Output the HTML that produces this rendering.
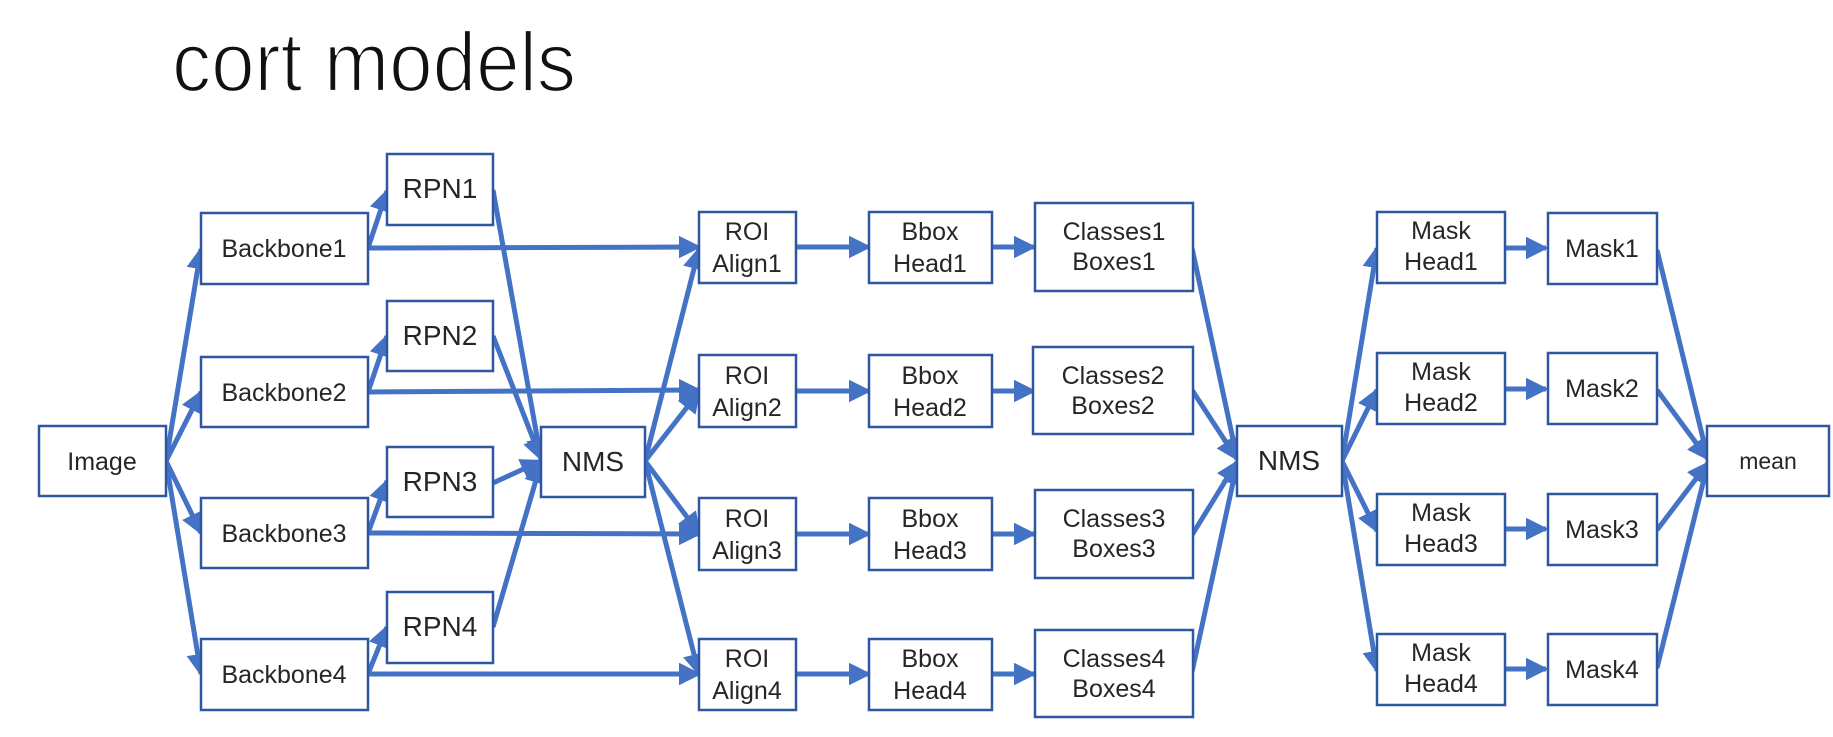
<!DOCTYPE html>
<html><head><meta charset="utf-8"><style>
html,body{margin:0;padding:0;background:#fff;}
svg{display:block;}
text{font-family:"Liberation Sans","Noto Sans CJK JP",sans-serif;fill:#262626;}
</style></head><body>
<svg width="1833" height="737" viewBox="0 0 1833 737" xmlns="http://www.w3.org/2000/svg">
<defs>
<marker id="a" markerWidth="4.5" markerHeight="4.5" refX="4" refY="2.25" orient="auto" markerUnits="strokeWidth">
<path d="M0,0 L4.5,2.25 L0,4.5 z" fill="#4472C4"/>
</marker>
</defs>
<text x="172" y="91" font-size="84" textLength="404" lengthAdjust="spacingAndGlyphs" style="fill:#111;stroke:#fff;stroke-width:2.2">cort models</text>

<g stroke="#4472C4" stroke-width="5" fill="none" marker-end="url(#a)">
<line x1="166" y1="461" x2="201" y2="249"/>
<line x1="166" y1="461" x2="201" y2="392"/>
<line x1="166" y1="461" x2="201" y2="533"/>
<line x1="166" y1="461" x2="201" y2="674"/>
<line x1="368" y1="248" x2="387" y2="191"/>
<line x1="368" y1="392" x2="387" y2="336"/>
<line x1="368" y1="533" x2="387" y2="481"/>
<line x1="368" y1="674" x2="387" y2="627"/>
<line x1="368" y1="248" x2="699" y2="247"/>
<line x1="368" y1="392" x2="699" y2="390"/>
<line x1="368" y1="533" x2="699" y2="534"/>
<line x1="368" y1="674" x2="699" y2="674"/>
<line x1="493" y1="190" x2="541" y2="459"/>
<line x1="493" y1="336" x2="541" y2="459"/>
<line x1="493" y1="483" x2="541" y2="461"/>
<line x1="493" y1="627" x2="541" y2="463"/>
<line x1="645" y1="461" x2="699" y2="249"/>
<line x1="645" y1="461" x2="699" y2="392"/>
<line x1="645" y1="461" x2="699" y2="533"/>
<line x1="645" y1="461" x2="699" y2="674"/>
<line x1="796" y1="247" x2="869" y2="247"/>
<line x1="796" y1="391" x2="869" y2="391"/>
<line x1="796" y1="534" x2="869" y2="534"/>
<line x1="796" y1="674" x2="869" y2="674"/>
<line x1="992" y1="247" x2="1034" y2="247"/>
<line x1="992" y1="391" x2="1034" y2="391"/>
<line x1="992" y1="534" x2="1034" y2="534"/>
<line x1="992" y1="674" x2="1034" y2="674"/>
<line x1="1192" y1="248" x2="1237" y2="458"/>
<line x1="1192" y1="390" x2="1237" y2="459"/>
<line x1="1192" y1="535" x2="1237" y2="462"/>
<line x1="1192" y1="672" x2="1237" y2="464"/>
<line x1="1342" y1="461" x2="1377" y2="248"/>
<line x1="1342" y1="461" x2="1377" y2="390"/>
<line x1="1342" y1="461" x2="1377" y2="531"/>
<line x1="1342" y1="461" x2="1377" y2="671"/>
<line x1="1505" y1="248" x2="1546" y2="248"/>
<line x1="1505" y1="389" x2="1546" y2="389"/>
<line x1="1505" y1="529" x2="1546" y2="529"/>
<line x1="1505" y1="669" x2="1546" y2="669"/>
<line x1="1657" y1="250" x2="1708" y2="459"/>
<line x1="1657" y1="390" x2="1708" y2="459"/>
<line x1="1657" y1="530" x2="1708" y2="463"/>
<line x1="1657" y1="668" x2="1708" y2="463"/>
</g>

<g fill="#fff" stroke="#2F56A0" stroke-width="2.5">
<rect x="39" y="426" width="127" height="70"/>
<rect x="201" y="213" width="167" height="71"/>
<rect x="201" y="357" width="167" height="70"/>
<rect x="201" y="498" width="167" height="70"/>
<rect x="201" y="639" width="167" height="71"/>
<rect x="387" y="154" width="106" height="71"/>
<rect x="387" y="301" width="106" height="70"/>
<rect x="387" y="447" width="106" height="70"/>
<rect x="387" y="592" width="106" height="71"/>
<rect x="541" y="427" width="104" height="70"/>
<rect x="699" y="212" width="97" height="71"/>
<rect x="699" y="355" width="97" height="72"/>
<rect x="699" y="498" width="97" height="72"/>
<rect x="699" y="639" width="97" height="71"/>
<rect x="869" y="212" width="123" height="71"/>
<rect x="869" y="355" width="123" height="72"/>
<rect x="869" y="498" width="123" height="72"/>
<rect x="869" y="639" width="123" height="71"/>
<rect x="1035" y="203" width="158" height="88"/>
<rect x="1033" y="347" width="160" height="87"/>
<rect x="1035" y="490" width="158" height="88"/>
<rect x="1035" y="630" width="158" height="87"/>
<rect x="1237" y="426" width="105" height="70"/>
<rect x="1377" y="212" width="128" height="71"/>
<rect x="1377" y="353" width="128" height="71"/>
<rect x="1377" y="494" width="128" height="71"/>
<rect x="1377" y="634" width="128" height="71"/>
<rect x="1548" y="213" width="109" height="71"/>
<rect x="1548" y="353" width="109" height="71"/>
<rect x="1548" y="494" width="109" height="71"/>
<rect x="1548" y="634" width="109" height="71"/>
<rect x="1707" y="426" width="122" height="70"/>
</g>

<g font-size="25" text-anchor="middle">
<text x="102" y="470">Image</text>
<text x="284" y="257">Backbone1</text>
<text x="284" y="401">Backbone2</text>
<text x="284" y="542">Backbone3</text>
<text x="284" y="683">Backbone4</text>
<text x="440" y="198" font-size="28">RPN1</text>
<text x="440" y="345" font-size="28">RPN2</text>
<text x="440" y="491" font-size="28">RPN3</text>
<text x="440" y="636" font-size="28">RPN4</text>
<text x="593" y="471" font-size="28">NMS</text>
<text x="1289" y="470" font-size="28">NMS</text>
<text x="747" y="240">ROI</text><text x="747" y="272">Align1</text>
<text x="747" y="384">ROI</text><text x="747" y="416">Align2</text>
<text x="747" y="527">ROI</text><text x="747" y="559">Align3</text>
<text x="747" y="667">ROI</text><text x="747" y="699">Align4</text>
<text x="930" y="240">Bbox</text><text x="930" y="272">Head1</text>
<text x="930" y="384">Bbox</text><text x="930" y="416">Head2</text>
<text x="930" y="527">Bbox</text><text x="930" y="559">Head3</text>
<text x="930" y="667">Bbox</text><text x="930" y="699">Head4</text>
<text x="1114" y="240">Classes1</text><text x="1114" y="270">Boxes1</text>
<text x="1113" y="384">Classes2</text><text x="1113" y="414">Boxes2</text>
<text x="1114" y="527">Classes3</text><text x="1114" y="557">Boxes3</text>
<text x="1114" y="667">Classes4</text><text x="1114" y="697">Boxes4</text>
<text x="1441" y="239">Mask</text><text x="1441" y="270">Head1</text>
<text x="1441" y="380">Mask</text><text x="1441" y="411">Head2</text>
<text x="1441" y="521">Mask</text><text x="1441" y="552">Head3</text>
<text x="1441" y="661">Mask</text><text x="1441" y="692">Head4</text>
<text x="1602" y="257">Mask1</text>
<text x="1602" y="397">Mask2</text>
<text x="1602" y="538">Mask3</text>
<text x="1602" y="678">Mask4</text>
<text x="1768" y="469" font-size="23">mean</text>
</g>
</svg>
</body></html>
